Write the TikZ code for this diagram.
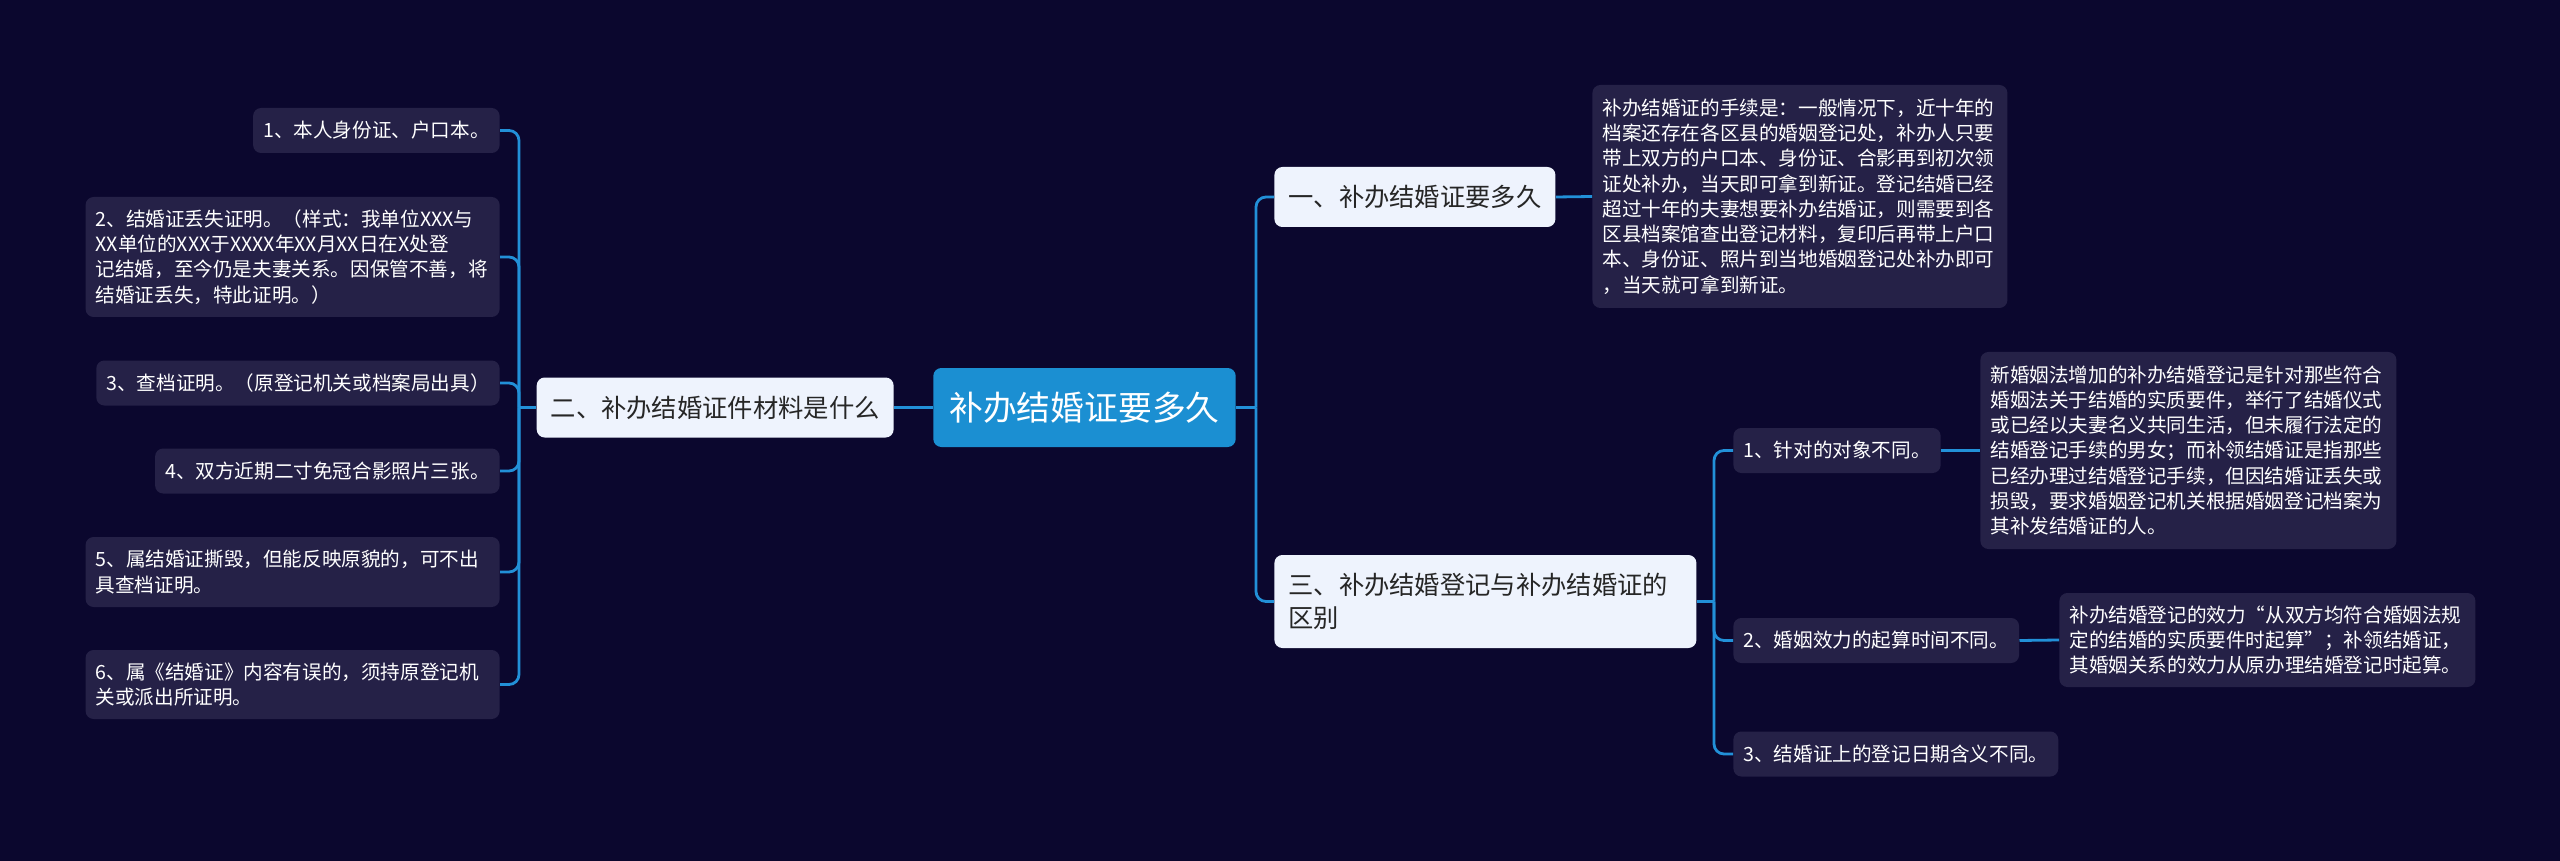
\documentclass[tikz,border=0pt]{standalone}
\usepackage{fontspec}
\setmainfont{Noto Sans CJK SC}
\usetikzlibrary{positioning}

\definecolor{bgnavy}{HTML}{0B072E}
\definecolor{rootblue}{HTML}{1B8FD2}
\definecolor{linkblue}{HTML}{2290D8}
\definecolor{topicfill}{HTML}{EEF3FD}
\definecolor{itemfill}{HTML}{252147}
\definecolor{topictext}{HTML}{262626}

\tikzstyle{root} = [style={fill=rootblue, text=white, rounded corners=4pt, inner xsep=8pt, inner ysep=0pt, minimum height=39.5pt, font=\fontsize{16.9}{20}\selectfont}]
\tikzstyle{topic} = [style={fill=topicfill, text=topictext, rounded corners=4pt, inner xsep=7pt, inner ysep=0pt, minimum height=30pt, align=left, font=\fontsize{12.65}{16.5}\selectfont}]
\tikzstyle{item} = [style={fill=itemfill, text=white, rounded corners=4pt, inner xsep=5pt, inner ysep=0pt, minimum height=22.5pt, align=left, font=\fontsize{9.8}{12.65}\selectfont}]
\tikzstyle{link} = [style={draw=linkblue, line width=1.4pt, rounded corners=5pt}]

\newcommand*{\xjl}{519}
\newcommand*{\xjr}{1256}
\newcommand*{\xjs}{1714}

\begin{document}
\begin{tikzpicture}[x=0.5pt, y=-0.5pt]
\useasboundingbox (0,0) rectangle (2560,861);
\fill [bgnavy] (0,0) rectangle (2560,861);

%% centre and first level
\node [root] (root) at (1084.5,407.5) {补办结婚证要多久};
\node [topic, anchor=east] (two) at (894,407.5) {二、补办结婚证件材料是什么};
\node [topic, anchor=west] (one) at (1274,197) {一、补办结婚证要多久};
\node [topic, anchor=west, text width=197pt, minimum height=46.5pt] (three) at (1274,601.5)
  {三、补办结婚登记与补办结婚证的\\区别};

%% left items
\node [item, anchor=east] (l1) at (500,130.5) {1、本人身份证、户口本。};
\node [item, anchor=east, text width=197pt, minimum height=60pt] (l2) at (500,257)
  {2、结婚证丢失证明。（样式：我单位XXX与\\XX单位的XXX于XXXX年XX月XX日在X处登\\记结婚，至今仍是夫妻关系。因保管不善，将\\结婚证丢失，特此证明。）};
\node [item, anchor=east] (l3) at (500,383) {3、查档证明。（原登记机关或档案局出具）};
\node [item, anchor=east] (l4) at (500,471) {4、双方近期二寸免冠合影照片三张。};
\node [item, anchor=east, text width=197pt, minimum height=35pt] (l5) at (500,572)
  {5、属结婚证撕毁，但能反映原貌的，可不出\\具查档证明。};
\node [item, anchor=east, text width=197pt, minimum height=34.5pt] (l6) at (500,684.5)
  {6、属《结婚证》内容有误的，须持原登记机\\关或派出所证明。};

%% right items
\node [item, anchor=west, text width=197.5pt, minimum height=111.5pt] (d1) at (1592,196.5)
  {补办结婚证的手续是：一般情况下，近十年的\\档案还存在各区县的婚姻登记处，补办人只要\\带上双方的户口本、身份证、合影再到初次领\\证处补办，当天即可拿到新证。登记结婚已经\\超过十年的夫妻想要补办结婚证，则需要到各\\区县档案馆查出登记材料，复印后再带上户口\\本、身份证、照片到当地婚姻登记处补办即可\\，当天就可拿到新证。};
\node [item, anchor=west] (r1) at (1733,450.5) {1、针对的对象不同。};
\node [item, anchor=west] (r2) at (1733,640.5) {2、婚姻效力的起算时间不同。};
\node [item, anchor=west] (r3) at (1733,754) {3、结婚证上的登记日期含义不同。};
\node [item, anchor=west, text width=198pt, minimum height=98.5pt] (d2) at (1980,450.5)
  {新婚姻法增加的补办结婚登记是针对那些符合\\婚姻法关于结婚的实质要件，举行了结婚仪式\\或已经以夫妻名义共同生活，但未履行法定的\\结婚登记手续的男女；而补领结婚证是指那些\\已经办理过结婚登记手续，但因结婚证丢失或\\损毁，要求婚姻登记机关根据婚姻登记档案为\\其补发结婚证的人。};
\node [item, anchor=west, text width=198pt, minimum height=47pt] (d3) at (2059,640)
  {补办结婚登记的效力“从双方均符合婚姻法规\\定的结婚的实质要件时起算”；补领结婚证，\\其婚姻关系的效力从原办理结婚登记时起算。};

%% links
\coordinate (jl) at (\xjl,407.5);
\coordinate (jr) at (\xjr,407.5);
\coordinate (js) at (\xjs,601.5);

\draw [link] (root.west) -- (two.east);
\draw [link] (two.west) -- (jl);
\foreach \n in {1,...,6}
  {\draw [link] (jl) |- (l\n.east);}

\draw [link] (root.east) -- (jr);
\draw [link] (jr) |- (one.west);
\draw [link] (jr) |- (three.west);
\draw [link] (one.east) -- (d1.west);

\draw [link] (three.east) -- (js);
\foreach \n in {1,2,3}
  {\draw [link] (js) |- (r\n.west);}
\draw [link] (r1.east) -- (d2.west);
\draw [link] (r2.east) -- (d3.west);

\end{tikzpicture}
\end{document}
